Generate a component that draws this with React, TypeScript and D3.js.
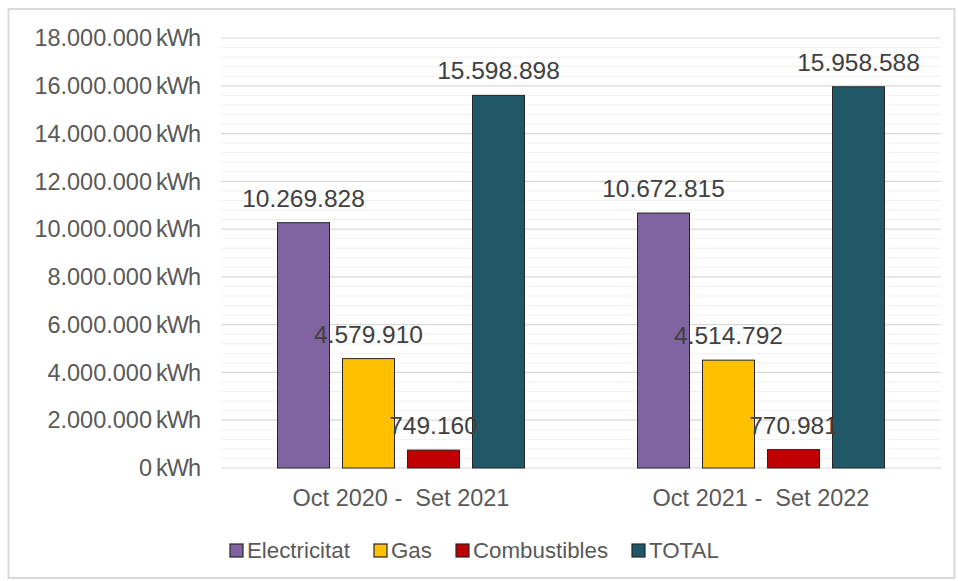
import React from 'react';
import * as d3 from 'd3';

const periods = ['Oct 2020 -  Set 2021', 'Oct 2021 -  Set 2022'];
const seriesNames = ['Electricitat', 'Gas', 'Combustibles', 'TOTAL'];
const seriesColors = ['#8064A2', '#FFC000', '#C00000', '#215868'];
const electricitat = [10269828, 10672815];
const gas = [4579910, 4514792];
const combustibles = [749160, 770981];
const total = [15598898, 15958588];
const yTicks = [0, 2000000, 4000000, 6000000, 8000000, 10000000, 12000000, 14000000, 16000000, 18000000];

const W = 958;
const H = 581;
const font = '"Liberation Sans", Arial, sans-serif';

// 1.234.567 style
const fmt = (v: number) => d3.format(',')(v).replace(/,/g, '.');

export default function App() {
  const plot = { left: 221, right: 941, top: 38, bottom: 468 };
  const values = [electricitat, gas, combustibles, total];

  const x0 = d3.scaleBand().domain(periods).range([plot.left, plot.right]);
  const x1 = d3.scaleBand().domain(seriesNames).range([0, 247]).paddingInner(0.2);
  const y = d3.scaleLinear().domain([0, 18000000]).range([plot.bottom, plot.top]);
  const minor = d3.range(0, 18000001, 400000).filter(v => v % 2000000 !== 0);
  const groupOffset = (x0.bandwidth() - 247) / 2;

  const legendX = [230, 374, 456, 632];

  return (
    <svg width={W} height={H} style={{ position: 'absolute', left: 0, top: 0 }} fontFamily={font}>
      <rect x={0} y={0} width={W} height={H} fill="#fff" />
      <rect x={8.5} y={9} width={946} height={569} fill="none" stroke="#d9d9d9" strokeWidth={2} />

      {minor.map(v => (
        <line key={'m' + v} x1={plot.left} x2={plot.right} y1={y(v)} y2={y(v)} stroke="#f0f0f0" strokeWidth={1} />
      ))}
      {yTicks.map(v => (
        <g key={v}>
          <line x1={plot.left} x2={plot.right} y1={y(v)} y2={y(v)} stroke="#d9d9d9" strokeWidth={1.2} />
          <text x={200} y={y(v)} dy="0.35em" textAnchor="end" fontSize={23.5} fill="#595959">
            {fmt(v)}
            <tspan dx={4} letterSpacing={-1}>kWh</tspan>
          </text>
        </g>
      ))}

      {periods.map((p, i) => (
        <g key={p} transform={`translate(${x0(p)! + groupOffset},0)`}>
          {seriesNames.map((s, j) => {
            const v = values[j][i];
            const bx = x1(s)!;
            return (
              <rect key={s} x={bx} y={y(v)} width={x1.bandwidth()} height={plot.bottom - y(v)}
                fill={seriesColors[j]} stroke="#262626" strokeWidth={1} />
            );
          })}
        </g>
      ))}
      {periods.map((p, i) => (
        <g key={'l' + p} transform={`translate(${x0(p)! + groupOffset},0)`}>
          {seriesNames.map((s, j) => {
            const v = values[j][i];
            return (
              <text key={s} x={x1(s)! + x1.bandwidth() / 2} y={y(v) - 16} textAnchor="middle" fontSize={24.5} fill="#404040">
                {fmt(v)}
              </text>
            );
          })}
          <text x={x0.bandwidth() / 2 - groupOffset} y={506} textAnchor="middle" fontSize={23.5} fill="#595959"
            style={{ whiteSpace: 'pre' }}>
            {p}
          </text>
        </g>
      ))}

      {seriesNames.map((s, j) => (
        <g key={'lg' + s}>
          <rect x={legendX[j]} y={544} width={13} height={13} fill={seriesColors[j]} stroke="#262626" strokeWidth={1.2} />
          <text x={legendX[j] + 17} y={558} fontSize={22.3} fill="#595959">{s}</text>
        </g>
      ))}
    </svg>
  );
}
